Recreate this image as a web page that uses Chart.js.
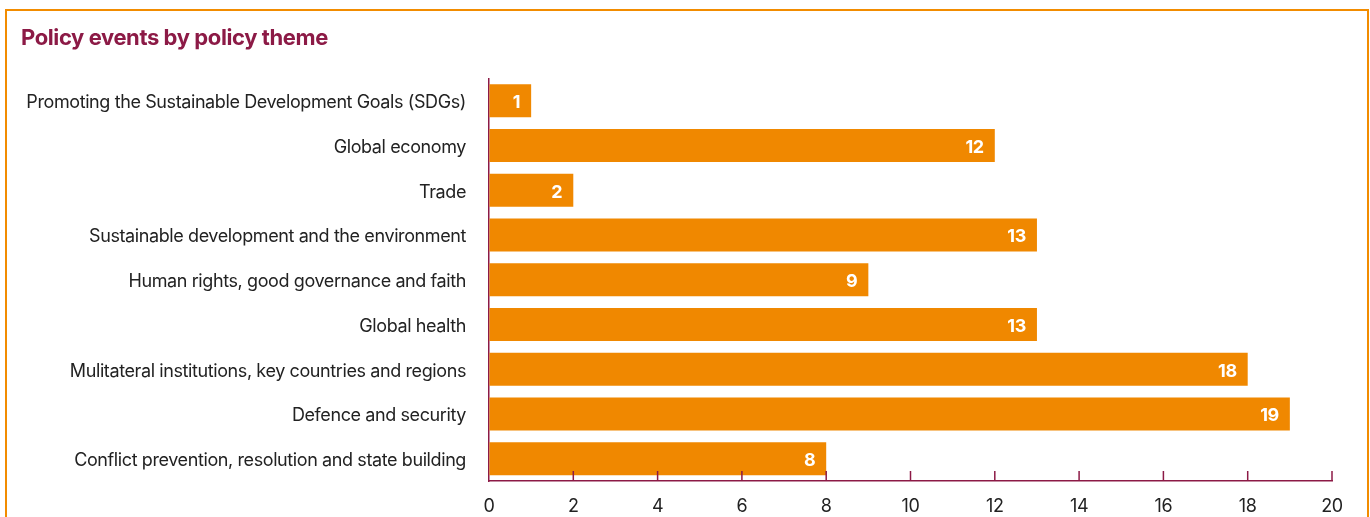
<!DOCTYPE html>
<html>
<head>
<meta charset="utf-8">
<script src="https://cdn.jsdelivr.net/npm/chart.js@4"></script>
<style>
    html, body { margin: 0; padding: 0; background: #fff; overflow: hidden; }
    #frame { position: absolute; left: 5px; top: 9px; width: 1360px; height: 600px; border: 2px solid #f28c00; }
    #wrap { position: absolute; left: 0; top: 0; width: 1370px; height: 517px; }
</style>
</head>
<body>
<div id="frame"></div>
<div id="wrap"><canvas id="chart"></canvas></div>
<script>
const themes = [
    'Promoting the Sustainable Development Goals (SDGs)',
    'Global economy',
    'Trade',
    'Sustainable development and the environment',
    'Human rights, good governance and faith',
    'Global health',
    'Mulitateral institutions, key countries and regions',
    'Defence and security',
    'Conflict prevention, resolution and state building'
];
const eventCounts = [1, 12, 2, 13, 9, 13, 18, 19, 8];
const xTicks = [0, 2, 4, 6, 8, 10, 12, 14, 16, 18, 20];

const maroon = '#8c1a46';
const orange = '#f08800';
const fontFamily = 'Inter, "Noto Sans", sans-serif';

// slightly tighter lettering, like the original typeface
const tightText = {
    id: 'tightText',
    beforeDraw(chart) {
        chart.ctx.letterSpacing = '-0.4px';
    }
};

// inward tick marks on the x axis, drawn over the bars
const innerTicks = {
    id: 'innerTicks',
    afterDatasetsDraw(chart) {
        const { ctx } = chart;
        const x = chart.scales.x;
        ctx.save();
        ctx.strokeStyle = maroon;
        ctx.lineWidth = 1.5;
        xTicks.forEach(v => {
            if (v === 0) return;
            const px = x.getPixelForValue(v);
            ctx.beginPath();
            ctx.moveTo(px, x.top);
            ctx.lineTo(px, x.top - 10);
            ctx.stroke();
        });
        ctx.restore();
    }
};

// value labels inside the end of each bar
const barValues = {
    id: 'barValues',
    afterDatasetsDraw(chart) {
        const { ctx } = chart;
        const meta = chart.getDatasetMeta(0);
        ctx.save();
        ctx.fillStyle = '#ffffff';
        ctx.font = 'bold 18px ' + fontFamily;
        ctx.textAlign = 'right';
        ctx.textBaseline = 'middle';
        meta.data.forEach((bar, i) => {
            ctx.fillText(String(eventCounts[i]), bar.x - 11, bar.y + 2);
        });
        ctx.restore();
    }
};

new Chart(document.getElementById('chart'), {
    type: 'bar',
    data: {
        labels: themes,
        datasets: [{
            data: eventCounts,
            backgroundColor: orange,
            borderWidth: 0,
            barPercentage: 0.82,
            categoryPercentage: 0.9
        }]
    },
    options: {
        indexAxis: 'y',
        responsive: true,
        maintainAspectRatio: false,
        animation: false,
        layout: { padding: { left: 21, right: 38, top: 0, bottom: 0 } },
        plugins: {
            legend: { display: false },
            tooltip: { enabled: false },
            title: {
                display: true,
                text: 'Policy events by policy theme',
                align: 'start',
                color: maroon,
                font: { family: fontFamily, size: 22, weight: 'bold' },
                padding: { top: 25, bottom: 27 }
            }
        },
        scales: {
            x: {
                min: 0,
                max: 20,
                afterBuildTicks: scale => { scale.ticks = xTicks.map(v => ({ value: v })); },
                afterFit: scale => { scale.height = 36; },
                grid: { display: true, drawOnChartArea: false, drawTicks: false },
                border: { display: true, color: maroon, width: 1.5 },
                ticks: {
                    color: '#222',
                    padding: 15,
                    font: { family: fontFamily, size: 18 }
                }
            },
            y: {
                afterFit: scale => { scale.width = 468; },
                grid: { display: false, drawTicks: false },
                border: { display: true, color: maroon, width: 1.5 },
                ticks: {
                    color: '#222',
                    padding: 23,
                    labelOffset: 2,
                    font: { family: fontFamily, size: 18 }
                }
            }
        }
    },
    plugins: [tightText, innerTicks, barValues]
});
</script>
</body>
</html>
